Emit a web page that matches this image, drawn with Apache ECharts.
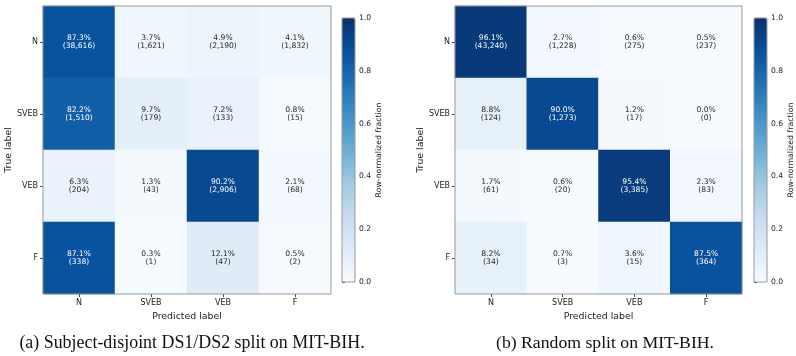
<!DOCTYPE html>
<html>
<head>
<meta charset="utf-8">
<script src="https://cdn.jsdelivr.net/npm/echarts@6/dist/echarts.min.js"></script>
<style>
  html, body { margin: 0; padding: 0; background: #fff; }
  #chart { width: 796px; height: 356px; }
</style>
</head>
<body>
<div id="chart"></div>
<script>
// class labels (rows = true, cols = predicted)
const classes = ["N", "SVEB", "VEB", "F"];

// (a) subject-disjoint DS1/DS2 split, raw counts
const countsA = [
  [38616, 1621, 2190, 1832],
  [1510, 179, 133, 15],
  [204, 43, 2906, 68],
  [338, 1, 47, 2]
];

// (b) random split, raw counts
const countsB = [
  [43240, 1228, 275, 237],
  [124, 1273, 17, 0],
  [61, 20, 3385, 83],
  [34, 3, 15, 364]
];

const captionA = "(a) Subject-disjoint DS1/DS2 split on MIT-BIH.";
const captionB = "(b) Random split on MIT-BIH.";

// matplotlib "Blues"
const blues = ["#f7fbff", "#deebf7", "#c6dbef", "#9ecae1", "#6baed6",
  "#4292c6", "#2171b5", "#08519c", "#08306b"];

const FONT = "DejaVu Sans";

function fmt(n) {
  return n.toString().replace(/\B(?=(\d{3})+(?!\d))/g, ",");
}

function buildData(counts) {
  let out = [];
  for (let r = 0; r < counts.length; r++) {
    let sum = counts[r].reduce((a, b) => a + b, 0);
    for (let c = 0; c < counts[r].length; c++) {
      let frac = counts[r][c] / sum;
      out.push({
        value: [c, r, frac, counts[r][c]],
        label: { color: frac > 0.5 ? "#ffffff" : "#262626" }
      });
    }
  }
  return out;
}

const grids = [
  { left: 43, top: 6, width: 288, height: 288 },
  { left: 455, top: 6, width: 287, height: 288 },
  // colorbars
  { left: 342, top: 18, width: 13, height: 264 },
  { left: 754, top: 18, width: 13, height: 264 }
];

function heatAxes(gi) {
  return {
    x: {
      type: "category", data: classes, gridIndex: gi, position: "bottom",
      name: "Predicted label", nameLocation: "middle", nameGap: 8,
      nameTextStyle: { fontFamily: FONT, fontSize: 9.4, color: "#222" },
      axisLine: { show: false },
      axisTick: { show: true, alignWithLabel: true, length: 3, lineStyle: { color: "#444" } },
      axisLabel: { fontFamily: FONT, fontSize: 8, color: "#222", margin: 5 },
      splitLine: { show: false }
    },
    y: {
      type: "category", data: classes, gridIndex: gi, inverse: true,
      name: "True label", nameLocation: "middle", nameGap: 22, nameRotate: 90,
      nameTextStyle: { fontFamily: FONT, fontSize: 9.4, color: "#222" },
      axisLine: { show: false },
      axisTick: { show: true, alignWithLabel: true, length: 3, lineStyle: { color: "#444" } },
      axisLabel: { fontFamily: FONT, fontSize: 8, color: "#222", margin: 5 },
      splitLine: { show: false }
    }
  };
}

function barAxes(gi) {
  return {
    x: { type: "value", gridIndex: gi, show: false, min: 0, max: 1 },
    y: {
      type: "value", gridIndex: gi, position: "right", min: 0, max: 1, interval: 0.2,
      name: "Row-normalized fraction", nameLocation: "middle", nameGap: 16, nameRotate: 90,
      nameTextStyle: { fontFamily: FONT, fontSize: 7.8, color: "#222" },
      axisLine: { show: false },
      axisTick: { show: true, length: 3, lineStyle: { color: "#444" } },
      axisLabel: { fontFamily: FONT, fontSize: 7.6, color: "#222", margin: 4,
        formatter: v => v.toFixed(1) },
      splitLine: { show: false }
    }
  };
}

const hA = heatAxes(0), hB = heatAxes(1), cA = barAxes(2), cB = barAxes(3);

function heatSeries(xi, counts) {
  return {
    type: "heatmap",
    xAxisIndex: xi, yAxisIndex: xi,
    data: buildData(counts),
    label: {
      show: true,
      fontFamily: FONT, fontSize: 7.6, lineHeight: 8.6,
      formatter: p => (p.value[2] * 100).toFixed(1) + "%\n(" + fmt(p.value[3]) + ")"
    },
    itemStyle: { borderWidth: 0 },
    emphasis: { disabled: true }
  };
}

const chart = echarts.init(document.getElementById("chart"), null, { renderer: "canvas" });

chart.setOption({
  animation: false,
  backgroundColor: "#ffffff",
  title: [
    { text: captionA, left: 187, top: 329, textAlign: "center",
      textStyle: { fontFamily: "Liberation Serif", fontSize: 17.9, fontWeight: "normal", color: "#111" } },
    { text: captionB, left: 600, top: 329, textAlign: "center",
      textStyle: { fontFamily: "Liberation Serif", fontSize: 17.7, fontWeight: "normal", color: "#111" } }
  ],
  grid: grids.map(g => Object.assign({ show: true, borderColor: "#999", borderWidth: 1,
    backgroundColor: "transparent", z: 5 }, g)),
  xAxis: [hA.x, hB.x, cA.x, cB.x],
  yAxis: [hA.y, hB.y, cA.y, cB.y],
  visualMap: [
    { type: "continuous", min: 0, max: 1, dimension: 2, seriesIndex: 0,
      calculable: false, left: 342, top: 18, itemWidth: 13, itemHeight: 264,
      padding: 0, text: null, showLabel: false, hoverLink: false,
      inRange: { color: blues } },
    { type: "continuous", min: 0, max: 1, dimension: 2, seriesIndex: 1,
      calculable: false, left: 754, top: 18, itemWidth: 13, itemHeight: 264,
      padding: 0, text: null, showLabel: false, hoverLink: false,
      inRange: { color: blues } }
  ],
  series: [
    heatSeries(0, countsA),
    heatSeries(1, countsB)
  ]
});
</script>
</body>
</html>
